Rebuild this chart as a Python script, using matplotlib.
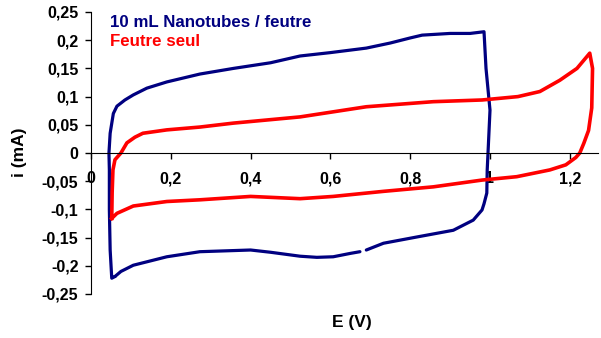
import matplotlib
matplotlib.use("Agg")
import matplotlib.pyplot as plt
import numpy as np
from matplotlib.ticker import FuncFormatter

# 10 mL Nanotubes / feutre (boucle, trou sur le retour vers 0,68 V)
E_nano = [0.060, 0.052, 0.048, 0.046, 0.046, 0.045, 0.048, 0.056, 0.065, 0.085,
          0.106, 0.14, 0.19, 0.273, 0.357, 0.45, 0.524, 0.60, 0.69, 0.75,
          0.80, 0.83, 0.90, 0.95, 0.985, 0.990, 1.000, 0.995, 0.993, 0.992,
          0.985, 0.98, 0.958, 0.908, 0.816, 0.733, 0.69, np.nan,
          0.674, 0.65, 0.607, 0.566, 0.524, 0.45, 0.40, 0.273, 0.19, 0.106,
          0.075, 0.060]
i_nano = [-0.219, -0.222, -0.172, -0.10, -0.03, 0.0, 0.035, 0.070, 0.083, 0.094,
          0.103, 0.115, 0.126, 0.140, 0.150, 0.160, 0.172, 0.178, 0.186, 0.195,
          0.204, 0.209, 0.212, 0.212, 0.215, 0.15, 0.076, 0.0, -0.03, -0.071,
          -0.09, -0.101, -0.119, -0.137, -0.149, -0.160, -0.172, np.nan,
          -0.175, -0.178, -0.184, -0.185, -0.183, -0.176, -0.172, -0.175, -0.184, -0.199,
          -0.210, -0.219]

# Feutre seul
E_feutre = [0.052, 0.053, 0.055, 0.060, 0.075, 0.09, 0.11, 0.13, 0.19, 0.273,
            0.357, 0.524, 0.69, 0.858, 0.98, 1.07, 1.125, 1.175, 1.218, 1.25,
            1.257, 1.255, 1.247, 1.235, 1.225, 1.215, 1.19, 1.15, 1.067, 0.98,
            0.858, 0.733, 0.607, 0.524, 0.40, 0.273, 0.19, 0.106, 0.065, 0.052]
i_feutre = [-0.116, -0.07, -0.03, -0.012, 0.0, 0.018, 0.028, 0.035, 0.041, 0.046,
            0.053, 0.064, 0.082, 0.091, 0.094, 0.100, 0.109, 0.129, 0.150, 0.177,
            0.15, 0.08, 0.04, 0.017, 0.0, -0.008, -0.021, -0.030, -0.042, -0.048,
            -0.060, -0.068, -0.077, -0.081, -0.077, -0.083, -0.086, -0.094, -0.107, -0.116]

x_ticks = [0, 0.2, 0.4, 0.6, 0.8, 1.0, 1.2]
y_ticks = [-0.25, -0.2, -0.15, -0.1, -0.05, 0, 0.05, 0.1, 0.15, 0.2, 0.25]

plt.rcParams['font.family'] = ['Liberation Sans', 'DejaVu Sans']
plt.rcParams['font.weight'] = 'bold'

fig = plt.figure(figsize=(6.01, 3.38), dpi=100)
ax = fig.add_axes([91 / 601, 44 / 338, 507 / 601, 282 / 338])

ax.plot(E_nano, i_nano, color="#000080", lw=2.3, solid_capstyle="round")
ax.plot(E_feutre, i_feutre, color="#ff0000", lw=2.6, solid_joinstyle="round")

ax.set_xlim(0, 507 / 399)
ax.set_ylim(-0.25, 0.25)

ax.spines['top'].set_visible(False)
ax.spines['right'].set_visible(False)
ax.spines['bottom'].set_position(('data', 0))

virg = FuncFormatter(lambda v, p: ("%g" % round(v, 3)).replace(".", ","))
ax.set_xticks(x_ticks)
ax.set_yticks(y_ticks)
ax.xaxis.set_major_formatter(virg)
ax.yaxis.set_major_formatter(virg)
ax.tick_params(axis='both', direction='out', length=4, width=1, labelsize=11.5)
ax.tick_params(axis='x', pad=9)
ax.tick_params(axis='y', pad=5)

fig.text(19.5 / 601, 1 - 152 / 338, "i (mA)", rotation=90, ha="center", va="center",
         fontsize=12.5, fontweight="bold")
fig.text(352 / 601, 1 - 322 / 338, "E (V)", ha="center", va="center",
         fontsize=12.5, fontweight="bold")

ax.text(110 / 601, 1 - 22.5 / 338, "10 mL Nanotubes / feutre", transform=fig.transFigure,
        color="#000080", fontsize=12.2, fontweight="bold", va="center")
ax.text(110 / 601, 1 - 42 / 338, "Feutre seul", transform=fig.transFigure,
        color="#ff0000", fontsize=12.2, fontweight="bold", va="center")

fig.savefig("out.png", dpi=100)
